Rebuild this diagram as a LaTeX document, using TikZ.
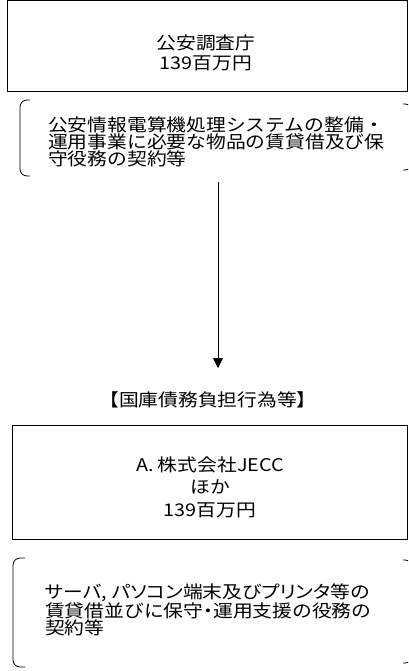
\documentclass[tikz,border=0pt]{standalone}
\usepackage{fontspec}
\newfontfamily\jp[FakeStretch=1.13]{Noto Sans CJK JP}
\newfontfamily\jpp[FakeStretch=1.13,RawFeature=+palt]{Noto Sans CJK JP}
\usetikzlibrary{arrows.meta}
\begin{document}
\begin{tikzpicture}[x=1pt,y=-1pt,
  frame/.style={draw=black,line width=1pt,inner sep=0pt,rectangle},
  txt/.style={inner sep=0pt,font=\jp\fontsize{17.5}{20}\selectfont,align=center},
  btxt/.style={inner sep=0pt,align=left,anchor=west},
  brk/.style={draw=black,line width=0.8pt,rounded corners=7pt},
  conn/.style={draw=black,line width=0.9pt,-{Triangle[length=10pt,width=10pt]}}]
\useasboundingbox (0,0) rectangle (408,671);
\clip (0,0) rectangle (408,671);
\fill[white] (0,0) rectangle (408,671);
% top box
\node[frame,minimum width=400pt,minimum height=91pt] (topbox) at (207,46.5) {};
\node[txt] (toptext) at (206,53) {公安調査庁\\139百万円};
% bracket 1
\draw[brk] (30,100) -- (20,100) -- (20,176) -- (30,176);
\draw[brk] (403,104) -- (412,104) -- (412,170) -- (403,170);
\node[btxt,font=\jp\fontsize{17.5}{17}\selectfont] (desc1) at (48,142) {公安情報電算機処理システムの整備・\\運用事業に必要な物品の賃貸借及び保\\守役務の契約等};
% arrow
\coordinate (arrs) at (218,182);
\coordinate (arre) at (218,368);
\draw[conn] (arrs) -- (arre);
% label
\node[txt] (lbl) at (208,400) {【国庫債務負担行為等】};
% box 2
\node[frame,minimum width=395pt,minimum height=114pt] (botbox) at (209.5,482) {};
\node[txt,font=\jp\fontsize{17.5}{22.5}\selectfont] (bottext) at (210,487) {A. 株式会社JECC\\ほか\\139百万円};
% bracket 2
\draw[brk] (25,558) -- (13,558) -- (13,667) -- (25,667);
\draw[brk] (403,560) -- (412,560) -- (412,663) -- (403,663);
\node[btxt,font=\jp\fontsize{17.5}{17.5}\selectfont] (desc2) at (45,610) {{\jpp サーバ, パソコン端末及びプリンタ等の}\\賃貸借並びに保守{\jpp ・}運用支援の役務の\\契約等};
\end{tikzpicture}
\end{document}
